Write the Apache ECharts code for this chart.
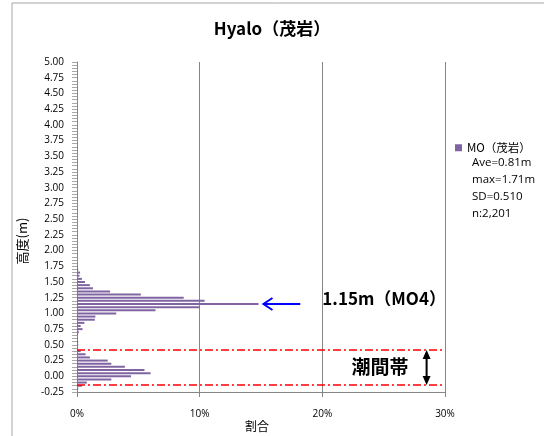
<!DOCTYPE html>
<html><head><meta charset="utf-8">
<script src="https://cdn.jsdelivr.net/npm/echarts@6/dist/echarts.min.js"></script>
<style>html,body{margin:0;padding:0;background:#fff}#c{width:544px;height:436px}</style>
</head><body><div id="c"></div>
<script>
// Histogram bins (height in m) and share (%)
const binHeights = ['1.75','1.70','1.65','1.60','1.55','1.50','1.45','1.40','1.35','1.30','1.25','1.20','1.15','1.10','1.05','1.00','0.95','0.90','0.85','0.80','0.75','0.70','0.65','0.60','0.55','0.50','0.45','0.40','0.35','0.30','0.25','0.20','0.15','0.10','0.05','0.00','-0.05','-0.10','-0.15','-0.20'];
const binShares = [0.05,0.1,0.25,0.2,0.4,0.65,1.05,1.3,2.7,5.2,8.7,10.4,14.8,10.0,6.4,3.2,1.5,1.45,0.6,0.3,0.45,0.15,0.05,0.05,0.1,0.1,0.05,0.3,0.7,1.05,2.5,2.8,3.9,5.5,6.0,4.4,2.8,0.8,0.4,0.1];
const yTickLabels = ['-0.25','0.00','0.25','0.50','0.75','1.00','1.25','1.50','1.75','2.00','2.25','2.50','2.75','3.00','3.25','3.50','3.75','4.00','4.25','4.50','4.75','5.00'];
const xTicks = [0,10,20,30];
const statLines = ['Ave=0.81m','max=1.71m','SD=0.510','n:2,201'];
const intertidal = [0.42, -0.14];
const modeHeight = 1.15;

// category scale: 0.05 m bins from -0.25 to 5.00
const categories = [];
for (let i = 0; i <= 105; i++) categories.push(((i * 5 - 25) / 100).toFixed(2));
const shareMap = {};
binHeights.forEach((h, i) => { shareMap[h] = binShares[i]; });
const seriesData = categories.map(c => (c in shareMap ? shareMap[c] : 0));

const FONT = '"Open Sans","Noto Sans CJK JP",sans-serif';
const JFONT = '"Noto Sans CJK JP","Noto Sans",sans-serif';
const chart = echarts.init(document.getElementById('c'), null, {renderer: 'canvas'});
const grid = {left: 77, top: 62, width: 368, height: 330};
chart.setOption({
  animation: false,
  backgroundColor: '#fff',
  title: {text: 'Hyalo（茂岩）', left: 'center', top: 15,
    textStyle: {fontFamily: JFONT, fontSize: 17, fontWeight: 'bold', color: '#000'}},
  legend: {data: ['MO（茂岩）'], left: 450, top: 137, orient: 'vertical', itemWidth: 7, itemHeight: 7, itemGap: 4,
    icon: 'rect', textStyle: {fontFamily: JFONT, fontSize: 11.5, color: '#000'}},
  grid: grid,
  xAxis: {type: 'value', min: 0, max: 30, interval: 10,
    axisLine: {show: true, onZero: false, lineStyle: {color: '#868686'}},
    axisTick: {show: true, length: 5, lineStyle: {color: '#868686'}},
    axisLabel: {formatter: '{value}%', margin: 17, fontFamily: FONT, fontSize: 10, color: '#000'},
    splitLine: {show: true, lineStyle: {color: '#868686', width: 1}}},
  yAxis: [{type: 'category', data: categories, boundaryGap: false,
    axisLine: {show: true, onZero: false, lineStyle: {color: '#868686'}},
    axisTick: {show: true, interval: 0, length: 5, lineStyle: {color: '#a8a8a8'}},
    axisLabel: {interval: (idx, val) => yTickLabels.includes(val), margin: 13, fontFamily: FONT, fontSize: 10, color: '#000'},
    splitLine: {show: false}},
    {type: 'value', min: -0.25, max: 5, show: false}],
  series: [{name: 'MO（茂岩）', type: 'bar', data: seriesData, barWidth: 2, itemStyle: {color: '#8064A2'}}]
});

function px(xv, yv) {
  return [chart.convertToPixel({xAxisIndex: 0}, xv), chart.convertToPixel({yAxisIndex: 1}, yv)];
}
const g = [];
g.push({type: 'rect', shape: {x: 12, y: 3, width: 560, height: 460}, style: {fill: 'none', stroke: '#a6a6a6', lineWidth: 1}, silent: true, z: -1});
intertidal.forEach(v => {
  const a = px(0, v), b = px(30, v);
  g.push({type: 'line', shape: {x1: a[0], y1: a[1], x2: b[0], y2: b[1]}, style: {stroke: '#ff0000', lineWidth: 1.5, lineDash: [8, 3, 2, 3]}, z: 10});
});
// double arrow
const da = px(28.5, intertidal[0]), db = px(28.5, intertidal[1]);
g.push({type: 'line', shape: {x1: da[0], y1: da[1] + 6, x2: db[0], y2: db[1] - 6}, style: {stroke: '#000', lineWidth: 2}, z: 11});
g.push({type: 'polygon', shape: {points: [[da[0], da[1]], [da[0] - 4, da[1] + 9], [da[0] + 4, da[1] + 9]]}, style: {fill: '#000'}, z: 11});
g.push({type: 'polygon', shape: {points: [[db[0], db[1]], [db[0] - 4, db[1] - 9], [db[0] + 4, db[1] - 9]]}, style: {fill: '#000'}, z: 11});
// 潮間帯 label
const tl = px(24.7, 0.15);
g.push({type: 'text', x: tl[0], y: tl[1], style: {text: '潮間帯', font: 'bold 19px ' + JFONT, fill: '#000', align: 'center', verticalAlign: 'middle'}, z: 11});
// blue arrow to mode
const ba = px(15.2, modeHeight), bb = px(18.2, modeHeight);
g.push({type: 'line', shape: {x1: ba[0], y1: ba[1], x2: bb[0], y2: bb[1]}, style: {stroke: '#0000ff', lineWidth: 2}, z: 11});
g.push({type: 'polyline', shape: {points: [[ba[0] + 9, ba[1] - 6], [ba[0], ba[1]], [ba[0] + 9, ba[1] + 6]]}, style: {stroke: '#0000ff', lineWidth: 2, fill: 'none'}, z: 11});
const mt = px(20.0, 1.23);
g.push({type: 'text', x: mt[0], y: mt[1], style: {text: '1.15m（MO4）', font: 'bold 17px ' + JFONT, fill: '#000', align: 'left', verticalAlign: 'middle'}, z: 11});
// stats text
statLines.forEach((s, i) => {
  g.push({type: 'text', x: 472, y: 163 + i * 17, style: {text: s, font: '11.5px ' + FONT, fill: '#000', verticalAlign: 'middle'}});
});
// axis names
g.push({type: 'text', x: 22, y: 241, rotation: Math.PI / 2, style: {text: '高度(m)', font: '13px ' + JFONT, fill: '#000', align: 'center', verticalAlign: 'middle'}});
g.push({type: 'text', x: 257, y: 426, style: {text: '割合', font: '12px ' + JFONT, fill: '#000', align: 'center', verticalAlign: 'middle'}});
chart.setOption({graphic: g});
</script></body></html>
